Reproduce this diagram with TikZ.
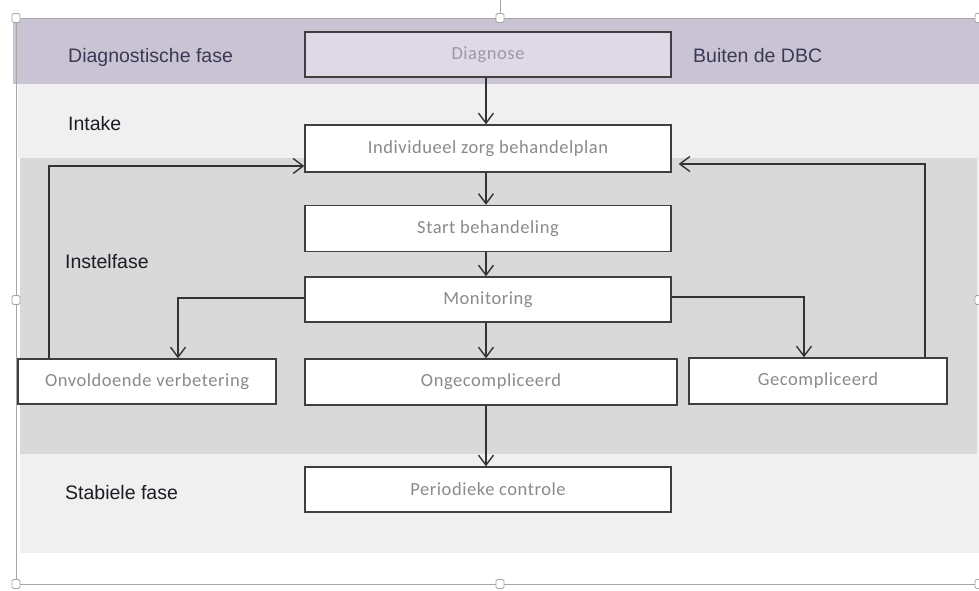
\documentclass[tikz,border=0pt]{standalone}
\usepackage{fontspec}
\usetikzlibrary{arrows.meta}
\newfontfamily\boxfont[LetterSpace=3]{Carlito}
\newfontfamily\lblfont{Liberation Sans}
\definecolor{bandpurple}{HTML}{C9C3D3}
\definecolor{bandlight}{HTML}{F0F0F0}
\definecolor{bandgray}{HTML}{D9D9D9}
\definecolor{diagfill}{HTML}{DFD9E7}
\definecolor{boxline}{HTML}{3F3F3F}
\definecolor{arrcol}{HTML}{333333}
\definecolor{boxtext}{HTML}{8A8A8A}
\definecolor{diagtext}{HTML}{9C98A4}
\definecolor{lblpurple}{HTML}{3A3A56}
\definecolor{lbldark}{HTML}{1C1C24}
\definecolor{framecol}{HTML}{A6A6A6}
\begin{document}
\begin{tikzpicture}[x=1pt,y=-1pt,
  box/.style={draw=boxline, line width=1.4pt, fill=white, inner sep=0pt,
    font=\boxfont\fontsize{18.5}{20}\selectfont, text=boxtext},
  lbl/.style={anchor=base west, inner sep=0pt, font=\lblfont\fontsize{19.5}{21}\selectfont, text=lbldark},
  arr/.style={draw=arrcol, line width=1.4pt, -{Straight Barb[length=10pt,width=15pt,line width=1.4pt]}},
  handle/.style={draw=framecol, fill=white, line width=0.8pt, rounded corners=1.5pt}]
\useasboundingbox (0,0) rectangle (979,590);
% bands
\fill[white] (0,0) rectangle (979,590);
\fill[bandpurple] (13,18) rectangle (979,84);
\fill[bandlight] (18,84) rectangle (979,158);
\fill[bandgray] (20,158) rectangle (977,454);
\fill[bandlight] (977,158) rectangle (979,454);
\fill[bandlight] (20,454) rectangle (979,553);
% selection frame
\draw[framecol, line width=0.9pt] (16,584) -- (16,18) -- (979,18);
\draw[framecol, line width=0.9pt] (16,584) -- (979,584);
\draw[framecol, line width=0.9pt] (500,0) -- (500,18);
\foreach \hx/\hy in {16/18, 500/18, 979/18, 16/300, 979/300, 16/584, 500/584, 979/584}
  \draw[handle] (\hx-4,\hy-4.5) rectangle (\hx+4,\hy+4.5);
% labels
\node[lbl, text=lblpurple] (lDiag) at (68,62.5) {Diagnostische fase};
\node[lbl, text=lblpurple] (lDBC) at (693,62.5) {Buiten de DBC};
\node[lbl] (lIntake) at (68,130) {Intake};
\node[lbl] (lInstel) at (65,268) {Instelfase};
\node[lbl] (lStab) at (65,499) {Stabiele fase};
% boxes
\node[box, fill=diagfill, text=diagtext, minimum width=366pt, minimum height=45pt] (diag) at (488,54.5) {Diagnose};
\node[box, minimum width=366pt, minimum height=47pt] (indiv) at (488,148.5) {Individueel zorg behandelplan};
\node[box, minimum width=366pt, minimum height=46pt] (start) at (488,228.5) {Start behandeling};
\node[box, minimum width=366pt, minimum height=45pt] (monit) at (488,299.5) {Monitoring};
\node[box, minimum width=258pt, minimum height=45pt] (onv) at (147,381.5) {Onvoldoende verbetering};
\node[box, minimum width=372pt, minimum height=46pt] (ongec) at (491,382) {Ongecompliceerd};
\node[box, minimum width=258pt, minimum height=46pt] (gec) at (818,381) {Gecompliceerd};
\node[box, minimum width=366pt, minimum height=45pt] (perio) at (488,489.5) {Periodieke controle};
% helper coordinates for connector columns
\coordinate (axis) at (486,0);
\coordinate (lb) at (178,0);
\coordinate (rb) at (804,0);
\coordinate (ll) at (49,0);
\coordinate (rl) at (925,0);
% connectors
\draw[arr] (diag.south -| axis) -- (indiv.north -| axis);
\draw[arr] (indiv.south -| axis) -- (start.north -| axis);
\draw[arr] (start.south -| axis) -- (monit.north -| axis);
\draw[arr] (monit.south -| axis) -- (ongec.north -| axis);
\draw[arr] (ongec.south -| axis) -- (perio.north -| axis);
\draw[arr] ([yshift=1.5pt]monit.west) -| (onv.north -| lb);
\draw[arr] ([yshift=2.5pt]monit.east) -| (gec.north -| rb);
\draw[arr] (onv.north -| ll) |- ([yshift=-17.5pt]indiv.west);
\draw[arr] (gec.north -| rl) |- ([xshift=7pt,yshift=-15.5pt]indiv.east);
\end{tikzpicture}
\end{document}
